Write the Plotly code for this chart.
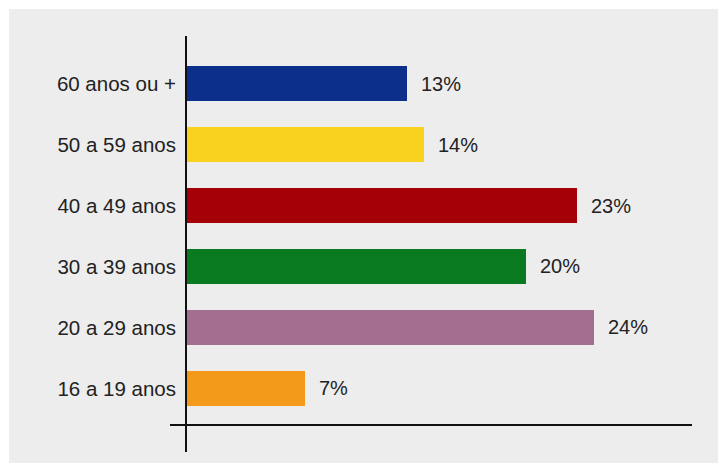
import plotly.graph_objects as go

categories = ["16 a 19 anos", "20 a 29 anos", "30 a 39 anos", "40 a 49 anos", "50 a 59 anos", "60 anos ou +"]
values = [7, 24, 20, 23, 14, 13]
value_labels = ["7%", "24%", "20%", "23%", "14%", "13%"]
colors = ["#f39a1a", "#a46e91", "#0a7a20", "#a50008", "#f8d21e", "#0b2f8a"]

# page body has an 8px margin, so the figure is sized to fit the remaining window
W, H = 718, 455
L, R, T, B = 178, 34, 28, 38
pw = W - L - R
ph = H - T - B

FONT = "Liberation Sans, Arial, Helvetica, sans-serif"

fig = go.Figure()
fig.add_trace(go.Bar(
    y=categories, x=values, orientation="h",
    marker=dict(color=colors, line=dict(width=0)),
    width=0.575, hoverinfo="skip",
))

annotations = []
for c, v, t in zip(categories, values, value_labels):
    annotations.append(dict(x=v, y=c, xref="x", yref="y", text=t, showarrow=False,
                            xanchor="left", xshift=12, font=dict(size=20, color="#222", family=FONT)))

shapes = [
    # gray panel
    dict(type="rect", xref="paper", yref="paper",
         x0=(1 - L) / pw, x1=(W + 20 - L) / pw, y0=-(B + 20) / ph, y1=1 + (T - 1) / ph,
         fillcolor="#ededed", line=dict(width=0), layer="below"),
    # vertical axis line
    dict(type="line", xref="paper", yref="paper", x0=0, x1=0,
         y0=-27 / ph, y1=1, line=dict(color="#111", width=2)),
    # horizontal axis line
    dict(type="line", xref="paper", yref="paper", x0=-16 / pw, x1=1,
         y0=0, y1=0, line=dict(color="#111", width=2)),
]

fig.update_layout(
    width=W, height=H, margin=dict(l=L, r=R, t=T, b=B, pad=0),
    paper_bgcolor="white", plot_bgcolor="rgba(0,0,0,0)",
    showlegend=False, bargap=0,
    xaxis=dict(range=[0, pw / 17.0], visible=False, fixedrange=True),
    yaxis=dict(type="category", categoryorder="array", categoryarray=categories,
               range=[-0.6, 5.78], showgrid=False, zeroline=False, showline=False,
               ticks="", ticklabelstandoff=9,
               tickfont=dict(size=20.5, color="#222", family=FONT), fixedrange=True),
    shapes=shapes, annotations=annotations,
)

fig.write_html("out.html")
